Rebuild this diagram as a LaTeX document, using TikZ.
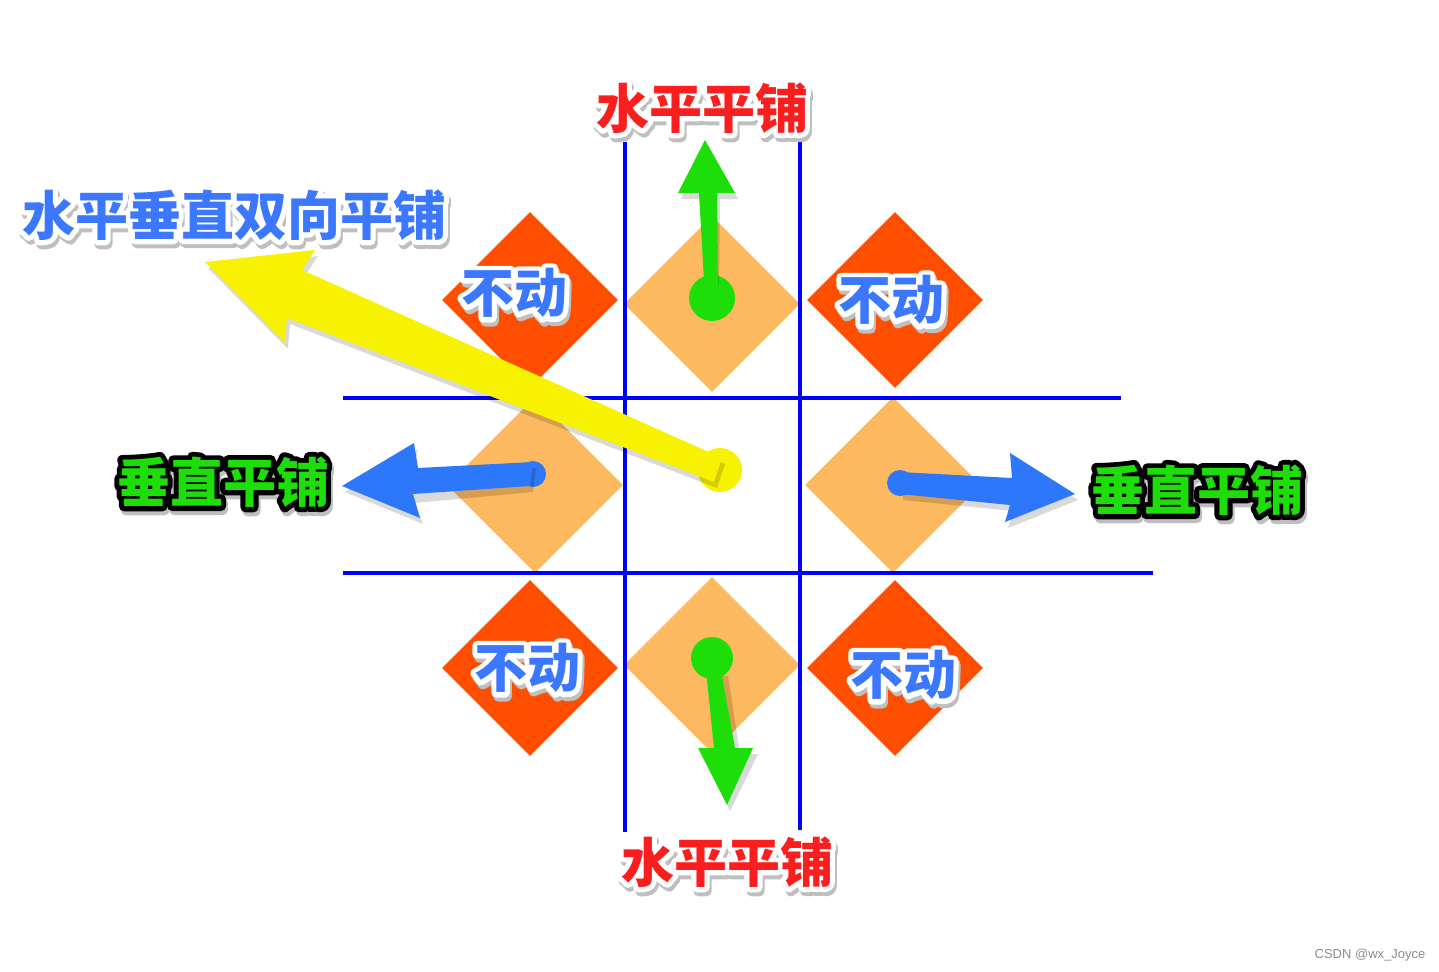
\documentclass[tikz,border=0pt]{standalone}
\usepackage{fontspec}
\newfontfamily\cjk{Noto Sans CJK SC}
\newfontfamily\wmfont{Liberation Sans}
\usetikzlibrary{shapes.geometric,calc}
\definecolor{dred}{RGB}{255,78,0}
\definecolor{lorange}{RGB}{252,185,95}
\definecolor{lineblue}{RGB}{0,0,255}
\definecolor{agreen}{RGB}{30,222,10}
\definecolor{ablue}{RGB}{45,120,250}
\definecolor{ayellow}{RGB}{246,242,0}
\definecolor{tred}{RGB}{250,30,30}
\definecolor{tblue}{RGB}{60,120,255}
\tikzset{
  lbl/.style={inner sep=0pt,font=\cjk\bfseries\fontsize{#1}{#1}\selectfont},
  lbl/.default=53,
  tile/.style={diamond,aspect=1,inner sep=0pt,minimum width=176pt,minimum height=176pt,draw=none},
  fixed/.style={tile,fill=dred},
  moving/.style={tile,fill=lorange},
  gridline/.style={draw=lineblue,line width=3.5pt},
  dot/.style={circle,inner sep=0pt,minimum size=#1},
  shadowfill/.style={fill=black,opacity=.15}
}
% stroked text (outline) via PDF text render mode
\newcommand\stroked[2]{\special{pdf:literal direct 2 Tr #1 w 1 J 1 j}#2\special{pdf:literal direct 0 Tr}}
\newcommand\halolabel[6]{%
  \node[lbl,text=black!25] at ($(#2)+(2pt,-4pt)$) {\stroked{#4}{#6}};%
  \node[lbl,text=#3] at (#2) {\stroked{#4}{#6}};%
  \node[lbl,text=#5] (#1) at (#2) {#6};%
}
\begin{document}
\begin{tikzpicture}[x=1pt,y=-1pt]
\fill[white] (0,0) rectangle (1439,971);
\useasboundingbox (0,0) rectangle (1439,971);

% tiles
\node[fixed]  (dTL) at (530,300) {};
\node[fixed]  (dTR) at (895,300) {};
\node[fixed]  (dBL) at (530,668) {};
\node[fixed]  (dBR) at (895,668) {};
\node[moving] (dT)  at (712,304) {};
\node[moving] (dL)  at (535,485) {};
\node[moving] (dR)  at (893,485) {};
\node[moving] (dB)  at (712,665) {};

% grid lines
\coordinate (v1t) at (625,142); \coordinate (v1b) at (625,832);
\coordinate (v2t) at (800,142); \coordinate (v2b) at (800,830);
\coordinate (h1l) at (343,398); \coordinate (h1r) at (1121,398);
\coordinate (h2l) at (343,573); \coordinate (h2r) at (1153,573);
\draw[gridline] (v1t) -- (v1b);
\draw[gridline] (v2t) -- (v2b);
\draw[gridline] (h1l) -- (h1r);
\draw[gridline] (h2l) -- (h2r);

% dots
\node[dot=46pt,fill=agreen] (gU) at (712,298) {};
\node[dot=42pt,fill=agreen] (gD) at (712,658) {};
\node[dot=26pt,fill=ablue] (bL) at (533,474) {};
\node[dot=26pt,fill=ablue] (bR) at (900,483) {};
\node[dot=44pt,fill=ayellow] (yC) at (720,470) {};

% tips
\coordinate (tipU) at (705,140);
\coordinate (tipD) at (727,805);
\coordinate (tipL) at (342,486);
\coordinate (tipR) at (1075,494);
\coordinate (tipY) at (205,262);

% shadows
\fill[shadowfill] (707,285) -- (702,199) -- (681,199) -- ([shift={(3,6)}]tipU) -- (738,199) -- (720,199) -- (719,285) -- cycle;
\fill[shadowfill] (713,676) -- (719,754) -- (703,754) -- ([shift={(3,6)}]tipD) -- (758,754) -- (740,754) -- (728,676) -- cycle;
\fill[shadowfill] (536,468) -- (413,476) -- (418,449) -- ([shift={(3,6)}]tipL) -- (423,524) -- (415,503) -- (533,492) -- cycle;
\fill[shadowfill] (903,478) -- (1015,484) -- (1013,459) -- ([shift={(3,6)}]tipR) -- (1008,528) -- (1013,511) -- (903,500) -- cycle;
\fill[shadowfill] (725,464) -- (305,276) -- (318,256) -- ([shift={(3,6)}]tipY) -- (288,349) -- (290,324) -- (717,488) -- cycle;

% arrows
\fill[agreen] ([xshift=-7]gU.center) -- (699,193) -- (678,193) -- (tipU) -- (735,193) -- (717,193) -- ([xshift=6]gU.center) -- cycle;
\fill[agreen] (706,670) -- (714,748) -- (698,748) -- (tipD) -- (753,748) -- (735,748) -- (721,670) -- cycle;
\fill[ablue] (533,462) -- (418,468) -- (414,443) -- (tipL) -- (420,518) -- (413,494) -- (530,486) -- cycle;
\fill[ablue] (900,472) -- (1012,478) -- (1010,453) -- (tipR) -- (1005,522) -- (1010,505) -- (900,494) -- cycle;
\fill[ayellow] (722,458) -- (302,270) -- (315,250) -- (tipY) -- (285,343) -- (287,318) -- (714,482) -- cycle;

% labels
\halolabel{lTop}{702,108}{white}{10}{tred}{水平平铺}
\halolabel{lBot}{727,862}{white}{10}{tred}{水平平铺}
\halolabel{lBoth}{234,215}{white}{10}{tblue}{水平垂直双向平铺}
\halolabel{lVL}{223,482}{black}{10}{agreen}{垂直平铺}
\halolabel{lVR}{1197,490}{black}{10}{agreen}{垂直平铺}
\halolabel{fTL}{514,293}{white}{10}{tblue}{不动}
\halolabel{fTR}{891,300}{white}{10}{tblue}{不动}
\halolabel{fBL}{527,668}{white}{10}{tblue}{不动}
\halolabel{fBR}{903,675}{white}{10}{tblue}{不动}

\node[inner sep=0pt,text=black!45,font=\wmfont\fontsize{13}{13}\selectfont] (wm) at (1370,955) {CSDN @wx\_Joyce};
\end{tikzpicture}
\end{document}
